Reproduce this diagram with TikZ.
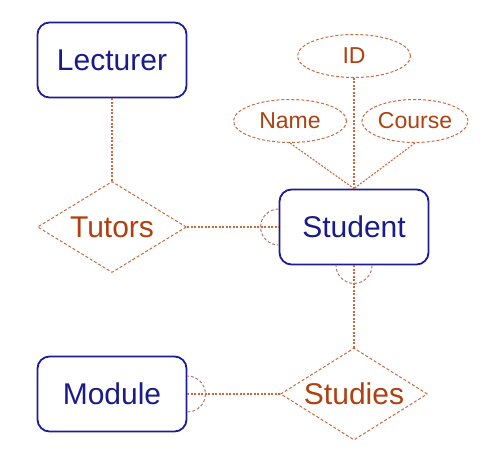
\documentclass[tikz,border=0pt]{standalone}
\usepackage{fontspec}
\setmainfont{Liberation Sans}
\usetikzlibrary{shapes.geometric}
\definecolor{entblue}{HTML}{1C1C96}
\definecolor{enttext}{HTML}{1A1A8A}
\definecolor{relline}{HTML}{C86A40}
\definecolor{reltext}{HTML}{B0400F}
\definecolor{arcline}{HTML}{B07A68}
\tikzset{
  entity/.style={draw=entblue, line width=1.8pt, rounded corners=12pt, minimum width=149pt, minimum height=75pt, inner sep=0pt, text=enttext, font=\fontsize{30}{36}\selectfont},
  relation/.style={diamond, draw=relline, line width=1pt, dash pattern=on 3pt off 2pt, aspect=1.64, inner sep=0pt, minimum width=149pt, minimum height=91pt, text=reltext, font=\fontsize{30}{36}\selectfont},
  attrib/.style={ellipse, draw=relline, line width=1pt, dash pattern=on 3pt off 2pt, inner sep=0pt, minimum height=43pt, text=reltext, font=\fontsize{23}{28}\selectfont},
  link/.style={draw=relline, line width=1.1pt, dash pattern=on 2pt off 1.5pt},
  partarc/.style={draw=arcline, line width=1pt, dash pattern=on 3pt off 2pt}
}
\begin{document}
\begin{tikzpicture}[x=1pt,y=1pt]
\useasboundingbox (0,0) rectangle (493,467);
\node[entity] (lec) at (112,407) {Lecturer};
\node[relation] (tut) at (112,240) {Tutors};
\node[entity] (stu) at (354,240) {Student};
\node[attrib, minimum width=113pt] (id) at (354,411) {ID};
\node[attrib, minimum width=113pt] (name) at (290,346) {Name};
\node[attrib, minimum width=106pt] (course) at (415,346) {Course};
\node[entity] (mod) at (112,73) {Module};
\node[relation, minimum width=147pt, minimum height=92pt] (stud) at (354,73) {Studies};
\draw[link] (lec.south) -- (tut.north);
\draw[link] (tut.east) -- (stu.west);
\draw[link] (stu.south) -- (stud.north);
\draw[link] (mod.east) -- (stud.west);
\draw[link] (id.south) -- (stu.north);
\draw[link] (name.south) -- (stu.north);
\draw[link] (course.south) -- (stu.north);
\draw[partarc] ([yshift=18pt]stu.west) arc[start angle=90, end angle=270, radius=18pt];
\draw[partarc] ([xshift=18pt]stu.south) arc[start angle=0, end angle=-180, radius=18pt];
\draw[partarc] ([yshift=-18pt]mod.east) arc[start angle=-90, end angle=90, radius=18pt];
\end{tikzpicture}
\end{document}
